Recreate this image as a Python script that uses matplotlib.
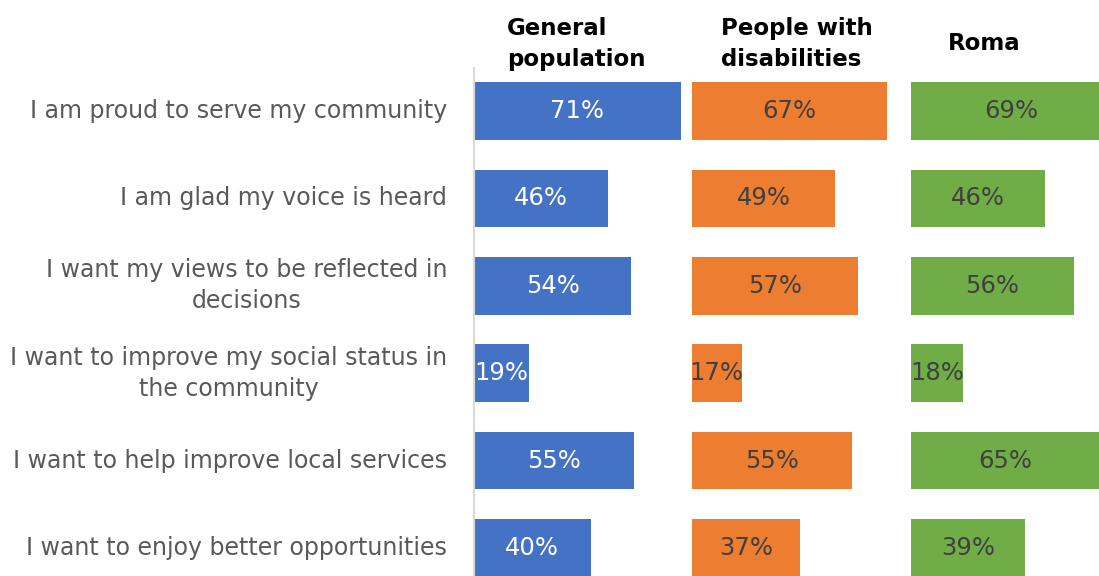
import matplotlib
matplotlib.use("Agg")
import matplotlib.pyplot as plt

categories = [
    "I am proud to serve my community",
    "I am glad my voice is heard",
    "I want my views to be reflected in\ndecisions",
    "I want to improve my social status in\nthe community",
    "I want to help improve local services",
    "I want to enjoy better opportunities",
]
groups = ["General\npopulation", "People with\ndisabilities", "Roma"]
general_population = [71, 46, 54, 19, 55, 40]
people_with_disabilities = [67, 49, 57, 17, 55, 37]
roma = [69, 46, 56, 18, 65, 39]

series = [general_population, people_with_disabilities, roma]
colors = ["#4472C4", "#ED7D31", "#70AD47"]
label_colors = ["white", "#404040", "#404040"]

W, H = 1099, 576
fig = plt.figure(figsize=(W / 100, H / 100), dpi=100)

row_h = 87.4
top_px = 111 - row_h / 2
bottom_px = top_px + row_h * len(categories)
panel_w = 218.5
lefts = [474, 692, 911]
header_x = [507, 721, 948]
header_y = [44, 44, 44]

axes = []
for i, (vals, col, lc) in enumerate(zip(series, colors, label_colors)):
    ax = fig.add_axes([lefts[i] / W, 1 - bottom_px / H, panel_w / W, (bottom_px - top_px) / H])
    y = list(range(len(categories)))
    ax.barh(y, vals, height=0.66, color=col, edgecolor="none")
    for yi, v in zip(y, vals):
        ax.text(v / 2, yi, f"{v}%", ha="center", va="center", fontsize=17.5, color=lc)
    ax.set_xlim(0, 75.0)
    ax.set_ylim(len(categories) - 0.5, -0.5)
    ax.set_xticks([])
    ax.set_yticks([])
    for s in ["top", "right", "bottom", "left"]:
        ax.spines[s].set_visible(False)
    fig.text(header_x[i] / W, 1 - header_y[i] / H, groups[i], ha="left", va="center",
             fontsize=16.5, fontweight="bold", color="black", linespacing=1.45)
    axes.append(ax)

# vertical baseline on the first panel
axes[0].spines["left"].set_visible(True)
axes[0].spines["left"].set_color("#D9D9D9")
axes[0].spines["left"].set_linewidth(1.5)
axes[0].spines["left"].set_bounds(-0.49, 5.5)

for i, cat in enumerate(categories):
    fig.text(447 / W, 1 - (111 + i * row_h) / H, cat, ha="right", va="center",
             multialignment="center", fontsize=17, color="#595959", linespacing=1.35)

fig.savefig("out.png", dpi=100)
